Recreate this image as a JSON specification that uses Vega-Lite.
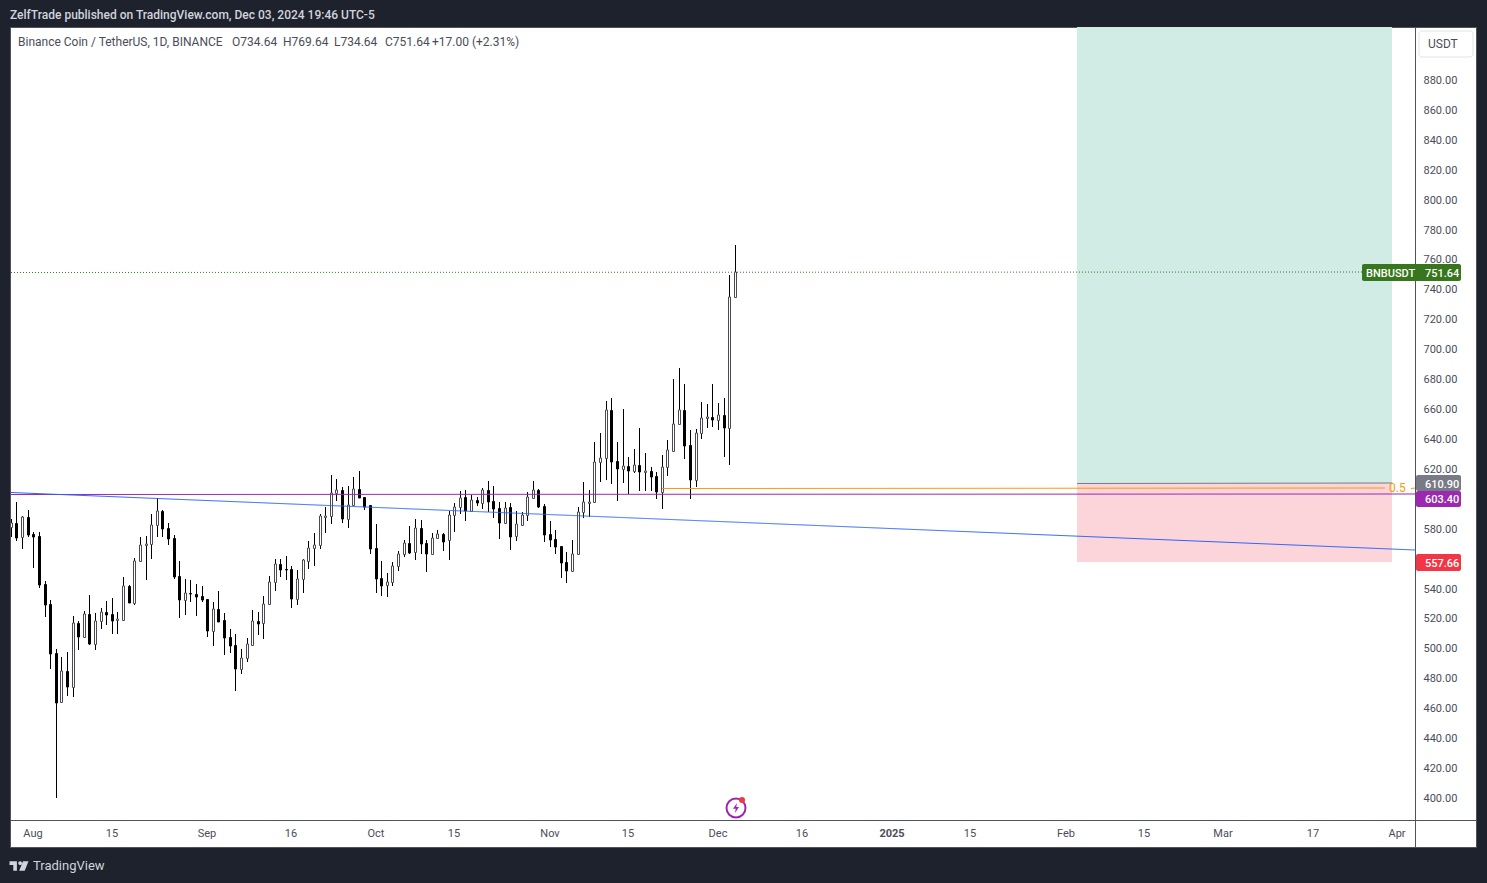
{
  "$schema": "https://vega.github.io/schema/vega-lite/v6.json",
  "width": 1466,
  "height": 820,
  "autosize": {"type": "none"},
  "padding": {"left": 10, "top": 27, "right": 11, "bottom": 36},
  "background": "#1e222d",
  "title": {
    "text": "ZelfTrade published on TradingView.com, Dec 03, 2024 19:46 UTC-5",
    "anchor": "start",
    "frame": "group",
    "orient": "top",
    "dx": 0,
    "offset": 5,
    "font": "Roboto",
    "fontSize": 12,
    "fontWeight": 500,
    "color": "#d1d4dc"
  },
  "view": {"fill": "#ffffff", "stroke": "#50535e"},
  "config": {"font": "Roboto", "text": {"font": "Roboto"}, "scale": {"continuousPadding": 0}},
  "datasets": {
    "candles": [
      {"date":"2024-07-28","open":581.4,"high":586.3,"low":574.7,"close":584.1},
      {"date":"2024-07-29","open":583.6,"high":597.9,"low":572.0,"close":574.0},
      {"date":"2024-07-30","open":574.2,"high":588.5,"low":566.7,"close":587.6},
      {"date":"2024-07-31","open":587.6,"high":592.5,"low":574.7,"close":576.0},
      {"date":"2024-08-01","open":576.5,"high":577.8,"low":554.0,"close":574.7},
      {"date":"2024-08-02","open":575.1,"high":577.8,"low":540.6,"close":542.6},
      {"date":"2024-08-03","open":543.0,"high":545.1,"low":521.2,"close":529.2},
      {"date":"2024-08-04","open":529.7,"high":532.4,"low":486.4,"close":496.5},
      {"date":"2024-08-05","open":496.9,"high":499.6,"low":400.2,"close":463.7},
      {"date":"2024-08-06","open":464.0,"high":494.2,"low":463.7,"close":484.7},
      {"date":"2024-08-07","open":484.7,"high":497.6,"low":468.4,"close":474.4},
      {"date":"2024-08-08","open":474.4,"high":521.7,"low":467.7,"close":516.8},
      {"date":"2024-08-09","open":516.8,"high":518.3,"low":499.1,"close":507.8},
      {"date":"2024-08-10","open":507.6,"high":525.0,"low":507.0,"close":522.8},
      {"date":"2024-08-11","open":522.8,"high":535.7,"low":502.5,"close":503.2},
      {"date":"2024-08-12","open":503.2,"high":523.7,"low":499.1,"close":518.1},
      {"date":"2024-08-13","open":518.1,"high":527.0,"low":513.2,"close":524.1},
      {"date":"2024-08-14","open":524.3,"high":531.7,"low":515.9,"close":522.3},
      {"date":"2024-08-15","open":522.8,"high":533.7,"low":509.8,"close":518.5},
      {"date":"2024-08-16","open":519.2,"high":524.3,"low":509.8,"close":519.6},
      {"date":"2024-08-17","open":519.2,"high":547.7,"low":518.5,"close":541.5},
      {"date":"2024-08-18","open":541.5,"high":542.2,"low":530.4,"close":530.6},
      {"date":"2024-08-19","open":530.4,"high":560.2,"low":529.2,"close":558.2},
      {"date":"2024-08-20","open":558.2,"high":574.5,"low":557.8,"close":568.9},
      {"date":"2024-08-21","open":568.9,"high":575.1,"low":546.0,"close":569.8},
      {"date":"2024-08-22","open":569.6,"high":589.8,"low":560.0,"close":582.3},
      {"date":"2024-08-23","open":582.7,"high":600.3,"low":574.7,"close":591.6},
      {"date":"2024-08-24","open":591.6,"high":592.5,"low":574.7,"close":580.1},
      {"date":"2024-08-25","open":580.3,"high":583.8,"low":569.3,"close":573.4},
      {"date":"2024-08-26","open":573.6,"high":575.6,"low":546.6,"close":547.7},
      {"date":"2024-08-27","open":548.2,"high":558.4,"low":520.5,"close":532.6},
      {"date":"2024-08-28","open":532.6,"high":546.4,"low":522.5,"close":536.8},
      {"date":"2024-08-29","open":537.0,"high":545.7,"low":531.2,"close":536.6},
      {"date":"2024-08-30","open":536.1,"high":543.1,"low":521.9,"close":534.6},
      {"date":"2024-08-31","open":534.8,"high":541.7,"low":531.2,"close":532.6},
      {"date":"2024-09-01","open":532.8,"high":533.0,"low":507.8,"close":511.9},
      {"date":"2024-09-02","open":511.9,"high":531.2,"low":501.8,"close":526.1},
      {"date":"2024-09-03","open":526.1,"high":538.4,"low":517.7,"close":517.9},
      {"date":"2024-09-04","open":518.8,"high":523.4,"low":495.8,"close":507.2},
      {"date":"2024-09-05","open":507.4,"high":513.0,"low":497.2,"close":501.8},
      {"date":"2024-09-06","open":502.0,"high":509.6,"low":471.7,"close":486.4},
      {"date":"2024-09-07","open":486.4,"high":499.6,"low":483.1,"close":493.4},
      {"date":"2024-09-08","open":493.4,"high":507.0,"low":491.1,"close":502.7},
      {"date":"2024-09-09","open":502.5,"high":525.7,"low":501.8,"close":518.1},
      {"date":"2024-09-10","open":518.1,"high":524.3,"low":509.0,"close":516.5},
      {"date":"2024-09-11","open":516.8,"high":535.0,"low":506.5,"close":529.5},
      {"date":"2024-09-12","open":529.9,"high":548.4,"low":529.7,"close":544.2},
      {"date":"2024-09-13","open":544.2,"high":559.8,"low":538.6,"close":556.2},
      {"date":"2024-09-14","open":556.2,"high":559.8,"low":548.0,"close":552.6},
      {"date":"2024-09-15","open":553.1,"high":561.8,"low":545.7,"close":552.6},
      {"date":"2024-09-16","open":552.9,"high":554.9,"low":527.2,"close":533.3},
      {"date":"2024-09-17","open":533.3,"high":552.2,"low":529.2,"close":546.2},
      {"date":"2024-09-18","open":546.2,"high":559.5,"low":537.3,"close":558.9},
      {"date":"2024-09-19","open":558.7,"high":571.8,"low":553.3,"close":566.9},
      {"date":"2024-09-20","open":566.9,"high":576.9,"low":555.1,"close":568.9},
      {"date":"2024-09-21","open":568.9,"high":590.1,"low":566.7,"close":588.3},
      {"date":"2024-09-22","open":588.1,"high":594.8,"low":576.9,"close":588.5},
      {"date":"2024-09-23","open":588.3,"high":615.9,"low":583.2,"close":604.1},
      {"date":"2024-09-24","open":604.1,"high":613.3,"low":598.8,"close":605.7},
      {"date":"2024-09-25","open":605.7,"high":607.7,"low":584.1,"close":586.7},
      {"date":"2024-09-26","open":586.7,"high":608.6,"low":580.7,"close":595.6},
      {"date":"2024-09-27","open":595.6,"high":614.4,"low":595.2,"close":606.3},
      {"date":"2024-09-28","open":606.3,"high":618.6,"low":600.3,"close":600.8},
      {"date":"2024-09-29","open":601.0,"high":601.4,"low":592.5,"close":594.8},
      {"date":"2024-09-30","open":595.6,"high":596.1,"low":563.3,"close":566.7},
      {"date":"2024-10-01","open":566.9,"high":583.2,"low":537.3,"close":546.6},
      {"date":"2024-10-02","open":547.0,"high":558.4,"low":535.2,"close":541.9},
      {"date":"2024-10-03","open":542.2,"high":550.4,"low":534.6,"close":544.2},
      {"date":"2024-10-04","open":544.2,"high":557.8,"low":541.9,"close":554.9},
      {"date":"2024-10-05","open":554.9,"high":565.1,"low":552.0,"close":562.9},
      {"date":"2024-10-06","open":562.9,"high":572.7,"low":561.3,"close":570.2},
      {"date":"2024-10-07","open":570.2,"high":581.8,"low":563.3,"close":564.0},
      {"date":"2024-10-08","open":564.2,"high":586.3,"low":559.3,"close":580.3},
      {"date":"2024-10-09","open":580.3,"high":585.6,"low":563.3,"close":570.0},
      {"date":"2024-10-10","open":570.2,"high":572.5,"low":551.3,"close":563.3},
      {"date":"2024-10-11","open":563.3,"high":576.9,"low":563.1,"close":573.6},
      {"date":"2024-10-12","open":573.6,"high":579.2,"low":573.4,"close":576.3},
      {"date":"2024-10-13","open":576.3,"high":577.1,"low":565.1,"close":571.4},
      {"date":"2024-10-14","open":572.2,"high":592.1,"low":559.3,"close":588.9},
      {"date":"2024-10-15","open":588.9,"high":597.4,"low":578.0,"close":594.3},
      {"date":"2024-10-16","open":594.3,"high":605.0,"low":589.8,"close":600.3},
      {"date":"2024-10-17","open":601.0,"high":605.9,"low":585.4,"close":592.1},
      {"date":"2024-10-18","open":592.1,"high":602.8,"low":591.9,"close":599.0},
      {"date":"2024-10-19","open":599.0,"high":601.0,"low":595.2,"close":597.2},
      {"date":"2024-10-20","open":597.4,"high":607.0,"low":593.4,"close":605.7},
      {"date":"2024-10-21","open":605.7,"high":611.7,"low":591.4,"close":598.1},
      {"date":"2024-10-22","open":598.3,"high":608.3,"low":587.4,"close":593.4},
      {"date":"2024-10-23","open":593.6,"high":597.7,"low":573.4,"close":584.1},
      {"date":"2024-10-24","open":584.1,"high":597.7,"low":583.0,"close":594.1},
      {"date":"2024-10-25","open":594.3,"high":597.0,"low":566.0,"close":574.7},
      {"date":"2024-10-26","open":574.9,"high":592.1,"low":571.8,"close":582.9},
      {"date":"2024-10-27","open":582.7,"high":591.0,"low":582.0,"close":589.0},
      {"date":"2024-10-28","open":589.0,"high":604.3,"low":585.4,"close":601.0},
      {"date":"2024-10-29","open":600.5,"high":611.7,"low":599.9,"close":605.7},
      {"date":"2024-10-30","open":605.7,"high":606.8,"low":594.1,"close":594.8},
      {"date":"2024-10-31","open":595.0,"high":596.3,"low":571.4,"close":576.0},
      {"date":"2024-11-01","open":576.3,"high":584.9,"low":568.0,"close":572.7},
      {"date":"2024-11-02","open":572.9,"high":579.4,"low":562.9,"close":568.0},
      {"date":"2024-11-03","open":568.2,"high":568.7,"low":547.3,"close":557.3},
      {"date":"2024-11-04","open":557.5,"high":564.2,"low":543.9,"close":552.0},
      {"date":"2024-11-05","open":552.0,"high":572.5,"low":551.1,"close":562.9},
      {"date":"2024-11-06","open":562.9,"high":594.8,"low":562.7,"close":591.4},
      {"date":"2024-11-07","open":591.4,"high":611.2,"low":587.4,"close":597.6},
      {"date":"2024-11-08","open":597.4,"high":605.9,"low":588.1,"close":597.9},
      {"date":"2024-11-09","open":597.6,"high":637.8,"low":597.4,"close":624.4},
      {"date":"2024-11-10","open":624.4,"high":643.8,"low":611.5,"close":627.1},
      {"date":"2024-11-11","open":627.1,"high":665.2,"low":612.6,"close":659.2},
      {"date":"2024-11-12","open":659.2,"high":667.4,"low":609.9,"close":624.8},
      {"date":"2024-11-13","open":625.1,"high":638.0,"low":598.5,"close":620.2},
      {"date":"2024-11-14","open":620.2,"high":659.8,"low":610.6,"close":621.7},
      {"date":"2024-11-15","open":621.7,"high":627.7,"low":603.0,"close":618.8},
      {"date":"2024-11-16","open":618.8,"high":633.3,"low":617.5,"close":622.4},
      {"date":"2024-11-17","open":622.4,"high":647.1,"low":605.2,"close":618.2},
      {"date":"2024-11-18","open":617.9,"high":630.4,"low":605.2,"close":618.4},
      {"date":"2024-11-19","open":618.4,"high":621.5,"low":605.2,"close":614.8},
      {"date":"2024-11-20","open":615.0,"high":617.9,"low":599.9,"close":604.8},
      {"date":"2024-11-21","open":604.8,"high":629.1,"low":593.2,"close":621.5},
      {"date":"2024-11-22","open":621.5,"high":639.3,"low":615.3,"close":632.4},
      {"date":"2024-11-23","open":632.2,"high":680.1,"low":631.5,"close":649.8},
      {"date":"2024-11-24","open":649.8,"high":687.2,"low":649.4,"close":659.2},
      {"date":"2024-11-25","open":659.2,"high":676.8,"low":626.8,"close":635.5},
      {"date":"2024-11-26","open":635.8,"high":646.0,"low":599.9,"close":612.8},
      {"date":"2024-11-27","open":612.8,"high":646.5,"low":607.9,"close":643.8},
      {"date":"2024-11-28","open":643.8,"high":664.5,"low":640.0,"close":653.8},
      {"date":"2024-11-29","open":653.8,"high":663.4,"low":647.6,"close":654.5},
      {"date":"2024-11-30","open":654.7,"high":676.8,"low":648.0,"close":652.9},
      {"date":"2024-12-01","open":652.9,"high":663.8,"low":645.8,"close":655.8},
      {"date":"2024-12-02","open":655.8,"high":667.2,"low":628.0,"close":647.6},
      {"date":"2024-12-03","open":647.5,"high":749.6,"low":622.8,"close":734.64},
      {"date":"2024-12-04","open":734.64,"high":769.64,"low":734.64,"close":751.64}
    ],
    "zones": [
      {"name":"target","date":"2025-02-03","end":"2025-03-31T03:00:00Z","low":610.9,"high":915.4},
      {"name":"stop","date":"2025-02-03","end":"2025-03-31T03:00:00Z","low":557.66,"high":610.9}
    ],
    "lines": [
      {"name":"entry","date":"2025-02-03","end":"2025-03-31T03:00:00Z","from":610.9,"to":610.9},
      {"name":"last","date":"2024-07-28","end":"2025-03-25T17:00:00Z","from":751.64,"to":751.64},
      {"name":"mid","date":"2024-11-21","end":"2025-03-29T22:00:00Z","from":607.0,"to":607.0},
      {"name":"mid","date":"2025-04-03T12:00:00Z","end":"2025-04-04T06:00:00Z","from":607.0,"to":607.0},
      {"name":"level","date":"2024-07-28","end":"2025-04-04T06:00:00Z","from":603.4,"to":603.4},
      {"name":"trend","date":"2024-07-28","end":"2025-04-04T06:00:00Z","from":604.8,"to":565.8}
    ],
    "tags": [
      {"name":"last","date":"2025-03-25T17:00:00Z","end":"2025-04-12T11:00:00Z","low":745.6,"high":756.8},
      {"name":"entry","date":"2025-04-04T10:00:00Z","end":"2025-04-12T11:00:00Z","low":605.2,"high":615.9},
      {"name":"level","date":"2025-04-04T10:00:00Z","end":"2025-04-12T11:00:00Z","low":594.5,"high":605.2},
      {"name":"stop","date":"2025-04-04T10:00:00Z","end":"2025-04-12T11:00:00Z","low":551.7,"high":563.1}
    ],
    "tagText": [
      {"label":"BNBUSDT","date":"2025-03-26T10:00:00Z","price":750.5},
      {"label":"751.64","date":"2025-04-05T22:00:00Z","price":750.5},
      {"label":"610.90","date":"2025-04-05T22:00:00Z","price":609.3},
      {"label":"603.40","date":"2025-04-05T22:00:00Z","price":599.2},
      {"label":"557.66","date":"2025-04-05T22:00:00Z","price":556.7}
    ],
    "legendText": [
      {"label":"Binance Coin / TetherUS, 1D, BINANCE","date":"2024-07-29T06:00:00Z","price":905.4},
      {"label":"O734.64","date":"2024-09-05T08:00:00Z","price":905.4},
      {"label":"H769.64","date":"2024-09-14T10:00:00Z","price":905.4},
      {"label":"L734.64","date":"2024-09-23T12:00:00Z","price":905.4},
      {"label":"C751.64","date":"2024-10-02T14:00:00Z","price":905.4},
      {"label":"+17.00 (+2.31%)","date":"2024-10-11T02:00:00Z","price":905.4},
      {"label":"USDT","date":"2025-04-06T14:00:00Z","price":904.1}
    ],
    "fib": [{"label":"0.5","date":"2025-03-30T14:00:00Z","price":607.0}],
    "button": [{"date":"2025-04-05T00:00:00Z","end":"2025-04-14T14:00:00Z","low":895.4,"high":912.8}],
    "footer": [{"label":"TradingView","date":"2024-07-31T22:00:00Z","price":354.5}],
    "logo": [{"date":"2024-07-29T12:00:00Z","price":354.5}],
    "bolt": [{"date":"2024-12-04T04:00:00Z","price":393.6}],
    "boltDot": [{"date":"2024-12-05T08:00:00Z","price":398.6}]
  },
  "layer": [
    {
      "data": {"name": "zones"},
      "mark": {"type": "rect", "opacity": 1},
      "encoding": {
        "x": {
          "field": "date",
          "type": "temporal",
          "title": null,
          "scale": {"type": "utc", "domain": [1722111714000, 1744681813200], "round": true, "padding": 0, "nice": false},
          "axis": {
            "orient": "bottom",
            "offset": -27,
            "tickCount": 60,
            "values": [1722470400000,1723680000000,1725148800000,1726444800000,1727740800000,1728950400000,1730419200000,1731628800000,1733011200000,1734307200000,1735689600000,1736899200000,1738368000000,1739577600000,1740787200000,1742169600000,1743465600000],
            "labelExpr": "utcdate(datum.value)===1 ? (utcmonth(datum.value)===0 ? '2025' : utcFormat(datum.value,'%b')) : utcFormat(datum.value,'%-d')",
            "labelFontWeight": {"condition": {"test": "utcmonth(datum.value)===0 && utcdate(datum.value)===1", "value": "bold"}, "value": "normal"},
            "grid": false,
            "ticks": false,
            "domainColor": "#50535e",
            "labelColor": "#4a4d58",
            "labelFont": "Roboto",
            "labelFontSize": 11,
            "labelPadding": 7,
            "labelOffset": -0.5,
            "labelOverlap": false,
            "labelFlush": false
          }
        },
        "x2": {"field": "end"},
        "y": {
          "field": "low",
          "type": "quantitative",
          "title": null,
          "scale": {"domain": [367.23, 915.43], "zero": false, "nice": false, "round": true},
          "axis": {
            "orient": "right",
            "offset": -61,
            "tickCount": 60,
            "values": [400,420,440,460,480,500,520,540,580,620,640,660,680,700,720,740,760,780,800,820,840,860,880],
            "format": ".2f",
            "grid": false,
            "ticks": false,
            "domainColor": "#50535e",
            "labelColor": "#4a4d58",
            "labelFont": "Roboto",
            "labelFontSize": 11,
            "labelPadding": 8,
            "labelOffset": 0,
            "labelOverlap": false,
            "labelFlush": false
          }
        },
        "y2": {"field": "high"},
        "color": {
          "field": "name",
          "type": "nominal",
          "legend": null,
          "scale": {"domain": ["target", "stop"], "range": ["#d1ebe5", "#fbd5d9"]}
        }
      }
    },
    {
      "data": {"name": "candles"},
      "mark": {"type": "rule", "color": "#000000", "strokeWidth": 1, "xOffset": 0.5, "clip": true},
      "encoding": {
        "x": {"field": "date", "type": "temporal"},
        "y": {"field": "low", "type": "quantitative"},
        "y2": {"field": "high"}
      }
    },
    {
      "data": {"name": "candles"},
      "mark": {"type": "bar", "size": 2, "strokeWidth": 1, "xOffset": 0.5, "yOffset": 0.5, "clip": true},
      "encoding": {
        "x": {"field": "date", "type": "temporal"},
        "y": {"field": "open", "type": "quantitative"},
        "y2": {"field": "close"},
        "fill": {"condition": {"test": "datum.close >= datum.open", "value": "#ffffff"}, "value": "#000000"},
        "stroke": {"condition": {"test": "datum.close >= datum.open", "value": "#4a4a55"}, "value": "#000000"}
      }
    },
    {
      "data": {"name": "lines"},
      "mark": {"type": "rule", "strokeWidth": 1, "yOffset": 0.5},
      "encoding": {
        "x": {"field": "date", "type": "temporal"},
        "x2": {"field": "end"},
        "y": {"field": "from", "type": "quantitative"},
        "y2": {"field": "to"},
        "stroke": {
          "field": "name",
          "type": "nominal",
          "legend": null,
          "scale": {"domain": ["entry", "last", "mid", "level", "trend"], "range": ["#787b86", "#2e7d1e", "#ff9800", "#9c27b0", "#2962ff"]}
        },
        "strokeDash": {
          "field": "name",
          "type": "nominal",
          "legend": null,
          "scale": {"domain": ["entry", "last", "mid", "level", "trend"], "range": [[1, 0], [1, 2], [1, 0], [1, 0], [1, 0]]}
        }
      }
    },
    {
      "data": {"name": "tags"},
      "mark": {"type": "bar", "cornerRadius": 2},
      "encoding": {
        "x": {"field": "date", "type": "temporal"},
        "x2": {"field": "end"},
        "y": {"field": "low", "type": "quantitative"},
        "y2": {"field": "high"},
        "fill": {
          "field": "name",
          "type": "nominal",
          "legend": null,
          "scale": {"domain": ["last", "entry", "level", "stop"], "range": ["#38761d", "#787b86", "#9c27b0", "#f23645"]}
        }
      }
    },
    {
      "data": {"name": "tagText"},
      "mark": {"type": "text", "align": "left", "baseline": "middle", "color": "#ffffff", "fontSize": 11, "fontWeight": 500},
      "encoding": {
        "x": {"field": "date", "type": "temporal"},
        "y": {"field": "price", "type": "quantitative"},
        "text": {"field": "label"}
      }
    },
    {
      "data": {"name": "button"},
      "mark": {"type": "rect", "fill": "#ffffff", "stroke": "#e0e3eb", "cornerRadius": 3},
      "encoding": {
        "x": {"field": "date", "type": "temporal"},
        "x2": {"field": "end"},
        "y": {"field": "low", "type": "quantitative"},
        "y2": {"field": "high"}
      }
    },
    {
      "data": {"name": "legendText"},
      "mark": {"type": "text", "align": "left", "baseline": "middle", "color": "#4a4d58", "fontSize": 12},
      "encoding": {
        "x": {"field": "date", "type": "temporal"},
        "y": {"field": "price", "type": "quantitative"},
        "text": {"field": "label"}
      }
    },
    {
      "data": {"name": "fib"},
      "mark": {"type": "text", "align": "left", "baseline": "middle", "color": "#ff9800", "fontSize": 12},
      "encoding": {
        "x": {"field": "date", "type": "temporal"},
        "y": {"field": "price", "type": "quantitative"},
        "text": {"field": "label"}
      }
    },
    {
      "data": {"name": "footer"},
      "mark": {"type": "text", "align": "left", "baseline": "middle", "color": "#d1d4dc", "fontSize": 13, "clip": false},
      "encoding": {
        "x": {"field": "date", "type": "temporal"},
        "y": {"field": "price", "type": "quantitative"},
        "text": {"field": "label"}
      }
    },
    {
      "data": {"name": "logo"},
      "mark": {
        "type": "point",
        "filled": true,
        "color": "#d1d4dc",
        "opacity": 1,
        "size": 361,
        "shape": "M-1,-0.5H-0.22V0.5H-0.6V-0.1H-1ZM-0.08,-0.3a0.2,0.2 0 1,0 0.4,0a0.2,0.2 0 1,0 -0.4,0ZM0.42,-0.5H1L0.6,0.5H0.02Z"
      },
      "encoding": {
        "x": {"field": "date", "type": "temporal"},
        "y": {"field": "price", "type": "quantitative"}
      }
    },
    {
      "data": {"name": "bolt"},
      "mark": {"type": "point", "shape": "circle", "size": 361, "color": "#9c27b0", "strokeWidth": 2, "filled": false, "opacity": 1},
      "encoding": {
        "x": {"field": "date", "type": "temporal"},
        "y": {"field": "price", "type": "quantitative"}
      }
    },
    {
      "data": {"name": "bolt"},
      "mark": {
        "type": "point",
        "filled": true,
        "opacity": 1,
        "color": "#9c27b0",
        "size": 100,
        "shape": "M0.2,-1L-0.6,0.15H-0.05L-0.2,1L0.6,-0.2H0.05Z"
      },
      "encoding": {
        "x": {"field": "date", "type": "temporal"},
        "y": {"field": "price", "type": "quantitative"}
      }
    },
    {
      "data": {"name": "boltDot"},
      "mark": {"type": "point", "shape": "circle", "size": 36, "filled": true, "opacity": 1, "color": "#f23645"},
      "encoding": {
        "x": {"field": "date", "type": "temporal"},
        "y": {"field": "price", "type": "quantitative"}
      }
    }
  ]
}
